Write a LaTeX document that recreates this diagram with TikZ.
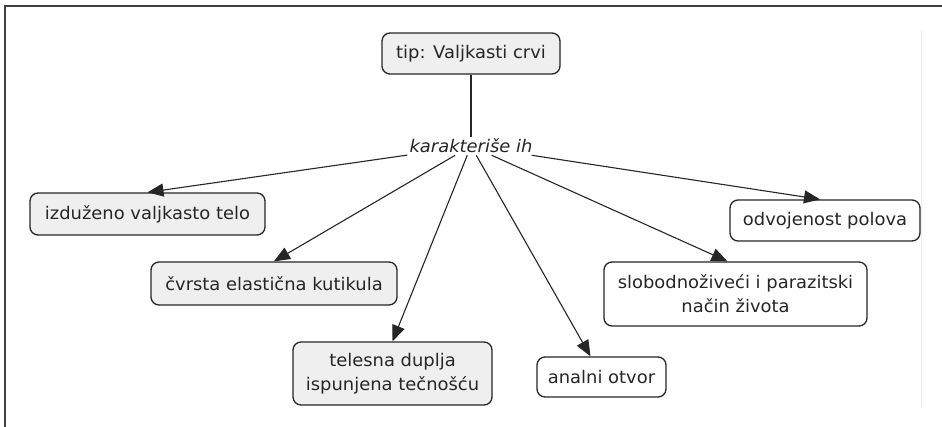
\documentclass[tikz,border=0pt]{standalone}
\usepackage{fontspec}
\setmainfont{DejaVu Sans}[FakeStretch=1.03]
\usetikzlibrary{arrows.meta}
\definecolor{ink}{HTML}{262626}
\definecolor{boxfill}{HTML}{EFEFEF}
\begin{document}
\begin{tikzpicture}[x=1pt, y=-1pt,
  font=\fontsize{17.4}{24}\selectfont, text=ink,
  concept/.style={draw=ink, line width=1.3pt, rounded corners=8pt,
                  align=center, inner sep=0pt},
  shaded/.style={concept, fill=boxfill},
  plain/.style={concept, fill=white},
  link/.style={draw=ink, line width=1.1pt,
               -{Triangle[length=16pt, width=13pt]}},
]
\useasboundingbox (0,0) rectangle (942,427);

% page frame and faint right rule
\draw[black!75, line width=2pt] (5,427) -- (5,6) -- (942,6);
\draw[black!7, line width=1pt] (921,31) -- (921,408);

% concepts
\node[shaded, minimum width=178pt, minimum height=41pt] (top) at (471,53.5) {tip: Valjkasti crvi};
\node[font=\fontsize{17.4}{24}\selectfont\itshape, inner sep=2pt] (k) at (471,146) {karakteriše ih};

\node[shaded, minimum width=235pt, minimum height=42pt] (izd) at (147.5,214) {izduženo valjkasto telo};
\node[shaded, minimum width=246pt, minimum height=43pt] (kut) at (274,283.5) {čvrsta elastična kutikula};
\node[shaded, minimum width=199pt, minimum height=63pt] (dup) at (392.5,373.5) {telesna duplja\\ispunjena tečnošću};
\node[plain, minimum width=129pt, minimum height=40pt] (ana) at (601.5,377) {analni otvor};
\node[plain, minimum width=263pt, minimum height=64pt] (slo) at (735.5,294) {slobodnoživeći i parazitski\\način života};
\node[plain, minimum width=190pt, minimum height=41pt] (odv) at (825,220.5) {odvojenost polova};

% connectors
\draw[draw=ink, line width=1.1pt] (top) -- (k);
\draw[link] (k) -- (izd.north);
\draw[link] (k) -- (kut.north);
\draw[link] (k) -- (dup.north);
\draw[link] (k) -- ([xshift=-11pt]ana.north);
\draw[link] (k) -- ([xshift=-8pt]slo.north);
\draw[link] (k) -- ([xshift=-5pt]odv.north);
\end{tikzpicture}
\end{document}
